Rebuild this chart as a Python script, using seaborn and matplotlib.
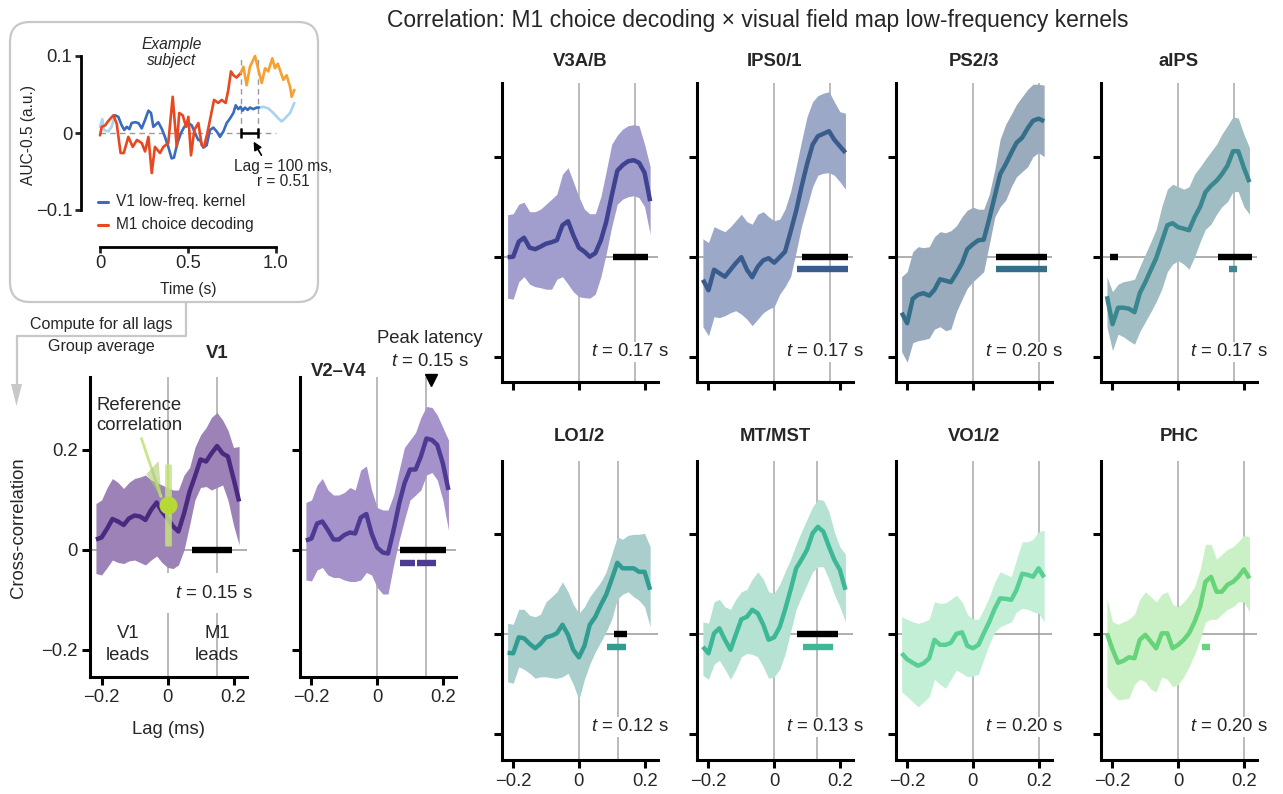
import numpy as np
import pandas as pd
import matplotlib
matplotlib.use("Agg")
import matplotlib.pyplot as plt
import seaborn as sns
from matplotlib.patches import FancyBboxPatch, Polygon, Rectangle
from matplotlib.lines import Line2D
from matplotlib.transforms import Affine2D

sns.set_style("ticks")
plt.rcParams['font.family'] = ['Liberation Sans', 'DejaVu Sans']
plt.rcParams['mathtext.fontset'] = 'custom'
plt.rcParams['mathtext.it'] = 'Liberation Sans:italic'
plt.rcParams['mathtext.rm'] = 'Liberation Sans'

# ---------------- data ----------------
lags = [-0.217, -0.2, -0.183, -0.167, -0.15, -0.133, -0.117, -0.1, -0.083, -0.067, -0.05, -0.033,
        -0.017, 0.0, 0.017, 0.033, 0.05, 0.067, 0.083, 0.1, 0.117, 0.133, 0.15, 0.167, 0.183, 0.2, 0.217]

v1_mean = [0.021, 0.025, 0.043, 0.062, 0.057, 0.05, 0.063, 0.069, 0.067, 0.06, 0.08, 0.095, 0.077, 0.063,
           0.047, 0.037, 0.073, 0.117, 0.147, 0.181, 0.177, 0.193, 0.208, 0.193, 0.187, 0.143, 0.097]
v1_hi = [0.093, 0.1, 0.125, 0.143, 0.135, 0.123, 0.135, 0.143, 0.146, 0.15, 0.14, 0.135, 0.13, 0.125,
         0.12, 0.12, 0.15, 0.165, 0.205, 0.23, 0.245, 0.265, 0.275, 0.26, 0.24, 0.205, 0.207]
v1_lo = [-0.047, -0.05, -0.035, -0.02, -0.025, -0.027, -0.022, -0.02, -0.025, -0.03, -0.02, -0.012, -0.025,
         -0.035, -0.037, -0.03, 0.0, 0.05, 0.1, 0.125, 0.127, 0.12, 0.125, 0.13, 0.1, 0.05, 0.01]

v2v4_mean = [0.019, 0.023, 0.053, 0.057, 0.04, 0.021, 0.021, 0.03, 0.035, 0.033, 0.065, 0.072, 0.033, 0.005,
             -0.005, -0.007, 0.04, 0.093, 0.133, 0.161, 0.161, 0.187, 0.223, 0.22, 0.21, 0.173, 0.12]
v2v4_hi = [0.095, 0.1, 0.13, 0.143, 0.12, 0.11, 0.11, 0.115, 0.125, 0.12, 0.16, 0.168, 0.12, 0.085,
           0.08, 0.08, 0.11, 0.16, 0.205, 0.22, 0.235, 0.265, 0.287, 0.285, 0.27, 0.245, 0.22]
v2v4_lo = [-0.06, -0.062, -0.04, -0.035, -0.05, -0.055, -0.055, -0.06, -0.063, -0.063, -0.06, -0.045, -0.05,
           -0.075, -0.088, -0.088, -0.03, 0.02, 0.06, 0.1, 0.11, 0.12, 0.15, 0.155, 0.14, 0.1, 0.04]

v3ab_mean = [-0.001, 0.0, 0.03, 0.038, 0.018, 0.015, 0.02, 0.026, 0.029, 0.033, 0.063, 0.071, 0.043, 0.018,
             0.01, 0.0, 0.007, 0.033, 0.069, 0.122, 0.172, 0.183, 0.191, 0.193, 0.188, 0.168, 0.111]
v3ab_hi = [0.084, 0.086, 0.105, 0.109, 0.09, 0.09, 0.095, 0.105, 0.115, 0.125, 0.165, 0.178, 0.15, 0.12,
           0.095, 0.086, 0.086, 0.12, 0.17, 0.225, 0.243, 0.255, 0.262, 0.264, 0.262, 0.225, 0.18]
v3ab_lo = [-0.083, -0.085, -0.05, -0.04, -0.055, -0.06, -0.062, -0.065, -0.065, -0.045, -0.04, -0.055, -0.07,
           -0.08, -0.082, -0.083, -0.075, -0.04, 0.005, 0.06, 0.105, 0.115, 0.12, 0.122, 0.118, 0.1, 0.045]

ips01_mean = [-0.046, -0.067, -0.026, -0.033, -0.04, -0.026, -0.013, -0.001, -0.026, -0.041, -0.02, -0.007,
              -0.003, -0.012, -0.001, 0.01, 0.05, 0.092, 0.139, 0.185, 0.224, 0.241, 0.246, 0.251, 0.234, 0.221, 0.208]
ips01_hi = [0.036, 0.028, 0.06, 0.055, 0.05, 0.06, 0.072, 0.085, 0.07, 0.065, 0.085, 0.09, 0.08, 0.072,
            0.075, 0.095, 0.13, 0.18, 0.23, 0.28, 0.31, 0.322, 0.327, 0.33, 0.31, 0.29, 0.287]
ips01_lo = [-0.14, -0.158, -0.12, -0.122, -0.118, -0.112, -0.108, -0.115, -0.125, -0.138, -0.125, -0.112, -0.105,
            -0.1, -0.075, -0.06, -0.04, 0.01, 0.06, 0.1, 0.14, 0.163, 0.167, 0.168, 0.163, 0.15, 0.135]

ps23_mean = [-0.112, -0.133, -0.084, -0.076, -0.073, -0.078, -0.066, -0.045, -0.048, -0.051, -0.033, -0.013,
             0.015, 0.025, 0.033, 0.034, 0.076, 0.122, 0.165, 0.185, 0.208, 0.228, 0.238, 0.257, 0.272, 0.276, 0.271]
ps23_hi = [-0.04, -0.03, 0.01, 0.02, 0.018, 0.02, 0.04, 0.05, 0.048, 0.052, 0.062, 0.08, 0.093, 0.099,
           0.095, 0.095, 0.125, 0.175, 0.235, 0.265, 0.285, 0.305, 0.32, 0.335, 0.345, 0.345, 0.343]
ps23_lo = [-0.19, -0.211, -0.172, -0.168, -0.166, -0.163, -0.145, -0.14, -0.148, -0.145, -0.11, -0.085, -0.063,
           -0.05, -0.04, -0.03, 0.025, 0.08, 0.1, 0.113, 0.14, 0.16, 0.17, 0.18, 0.2, 0.208, 0.2]

aips_mean = [-0.079, -0.135, -0.102, -0.102, -0.104, -0.111, -0.073, -0.051, -0.026, -0.003, 0.03, 0.063,
             0.067, 0.059, 0.056, 0.053, 0.079, 0.1, 0.129, 0.142, 0.152, 0.165, 0.182, 0.211, 0.211, 0.178, 0.149]
aips_hi = [-0.04, -0.07, -0.055, -0.05, -0.048, -0.045, -0.02, 0.005, 0.03, 0.055, 0.1, 0.135, 0.145, 0.14,
           0.135, 0.14, 0.165, 0.18, 0.195, 0.21, 0.225, 0.245, 0.262, 0.28, 0.277, 0.245, 0.218]
aips_lo = [-0.14, -0.188, -0.155, -0.16, -0.168, -0.175, -0.15, -0.13, -0.11, -0.09, -0.065, -0.03, -0.015,
           -0.008, -0.015, -0.025, 0.0, 0.03, 0.055, 0.065, 0.085, 0.1, 0.11, 0.13, 0.13, 0.1, 0.085]

lo12_mean = [-0.037, -0.038, -0.006, -0.008, -0.019, -0.028, -0.019, -0.006, -0.003, 0.002, 0.019, -0.001,
             -0.031, -0.046, -0.023, 0.019, 0.035, 0.059, 0.079, 0.11, 0.143, 0.132, 0.132, 0.132, 0.125, 0.125, 0.089]
lo12_hi = [0.022, 0.02, 0.05, 0.05, 0.038, 0.035, 0.04, 0.065, 0.075, 0.085, 0.105, 0.085, 0.06, 0.042,
           0.055, 0.075, 0.09, 0.105, 0.125, 0.16, 0.195, 0.19, 0.198, 0.2, 0.2, 0.202, 0.175]
lo12_lo = [-0.095, -0.098, -0.065, -0.07, -0.078, -0.088, -0.085, -0.085, -0.087, -0.088, -0.085, -0.078, -0.1,
           -0.131, -0.09, -0.06, -0.035, -0.015, 0.005, 0.03, 0.07, 0.08, 0.085, 0.075, 0.068, 0.055, 0.015]

mtmst_mean = [-0.025, -0.038, 0.002, 0.012, -0.011, -0.031, -0.001, 0.03, 0.035, 0.049, 0.042, 0.019,
              -0.011, -0.006, 0.015, 0.049, 0.089, 0.132, 0.149, 0.169, 0.202, 0.215, 0.205, 0.175, 0.149, 0.129, 0.089]
mtmst_hi = [0.025, 0.022, 0.065, 0.07, 0.055, 0.05, 0.07, 0.085, 0.09, 0.11, 0.125, 0.11, 0.085, 0.082,
            0.1, 0.125, 0.15, 0.18, 0.205, 0.23, 0.255, 0.27, 0.268, 0.245, 0.205, 0.175, 0.16]
mtmst_lo = [-0.082, -0.09, -0.06, -0.052, -0.07, -0.09, -0.07, -0.045, -0.038, -0.04, -0.045, -0.065, -0.088,
            -0.085, -0.07, -0.04, 0.005, 0.05, 0.075, 0.1, 0.125, 0.135, 0.135, 0.11, 0.08, 0.055, 0.025]

vo12_mean = [-0.038, -0.05, -0.057, -0.063, -0.058, -0.048, -0.011, -0.021, -0.021, -0.017, 0.001, 0.004,
             -0.023, -0.028, -0.021, 0.002, 0.025, 0.052, 0.072, 0.071, 0.069, 0.089, 0.121, 0.119, 0.115, 0.132, 0.114]
vo12_hi = [0.035, 0.03, 0.025, 0.022, 0.025, 0.03, 0.065, 0.062, 0.063, 0.07, 0.078, 0.065, 0.04, 0.03,
           0.03, 0.05, 0.075, 0.105, 0.125, 0.12, 0.115, 0.15, 0.185, 0.185, 0.19, 0.205, 0.208]
vo12_lo = [-0.115, -0.125, -0.135, -0.145, -0.135, -0.125, -0.09, -0.1, -0.108, -0.09, -0.072, -0.078, -0.085,
           -0.083, -0.08, -0.05, -0.02, 0.005, 0.015, 0.02, 0.025, 0.045, 0.052, 0.05, 0.045, 0.042, 0.025]

phc_mean = [0.002, -0.03, -0.057, -0.053, -0.046, -0.048, -0.011, -0.001, -0.015, -0.028, 0.002, 0.002,
            -0.028, -0.021, -0.011, 0.002, 0.025, 0.055, 0.105, 0.115, 0.085, 0.085, 0.099, 0.105, 0.115, 0.13, 0.112]
phc_hi = [0.072, 0.025, 0.02, 0.025, 0.03, 0.04, 0.07, 0.085, 0.075, 0.065, 0.08, 0.085, 0.06, 0.055,
          0.065, 0.078, 0.095, 0.13, 0.18, 0.18, 0.15, 0.16, 0.17, 0.175, 0.185, 0.198, 0.195]
phc_lo = [-0.105, -0.12, -0.131, -0.13, -0.128, -0.1, -0.09, -0.095, -0.11, -0.115, -0.085, -0.09, -0.105,
          -0.1, -0.085, -0.065, -0.04, -0.01, 0.025, 0.03, 0.03, 0.04, 0.05, 0.055, 0.065, 0.065, 0.045]

region_names = ["V1", "V2\u2013V4", "V3A/B", "IPS0/1", "PS2/3", "aIPS", "LO1/2", "MT/MST", "VO1/2", "PHC"]
peak_latency = [0.15, 0.15, 0.17, 0.17, 0.20, 0.17, 0.12, 0.13, 0.20, 0.20]
peak_labels = ["0.15", "0.15", "0.17", "0.17", "0.20", "0.17", "0.12", "0.13", "0.20", "0.20"]
fill_colors = ["#9c82b6", "#a692cb", "#a19ecd", "#9ba8c7", "#9babbe", "#9fbdc2", "#a9cecb", "#b6e2d3",
               "#c4efd7", "#caf1c6"]
line_colors = ["#4a2a80", "#4d3a93", "#3e4290", "#3a5c8d", "#356e88", "#3a8790", "#319c91", "#3db896",
               "#58d094", "#68d47a"]
black_bars = [[(0.073, 0.194)], [(0.071, 0.211)], [(0.105, 0.209)], [(0.086, 0.225)], [(0.071, 0.225)],
              [(-0.208, -0.184), (0.121, 0.225)], [(0.106, 0.146)], [(0.071, 0.194)], [], []]
color_bars = [[], [(0.071, 0.114), (0.12, 0.178)], [], [(0.071, 0.225)], [(0.071, 0.225)],
              [(0.154, 0.178)], [(0.087, 0.143)], [(0.087, 0.179)], [], [(0.073, 0.097)]]

# example subject time courses
m1_t = [0.0, 0.01, 0.03, 0.045, 0.076, 0.095, 0.117, 0.135, 0.161, 0.186, 0.21, 0.237, 0.256, 0.275, 0.294,
        0.312, 0.341, 0.36, 0.388, 0.413, 0.436, 0.45, 0.47, 0.489, 0.502, 0.517, 0.536, 0.559, 0.578, 0.591,
        0.61, 0.625, 0.648, 0.672, 0.691, 0.714, 0.729, 0.744, 0.758, 0.776, 0.8,
        0.815, 0.833, 0.852, 0.881, 0.9, 0.919, 0.938, 0.956, 0.979, 0.994, 1.01, 1.028, 1.042, 1.06,
        1.08, 1.089, 1.104]
m1_y = [-0.003, 0.008, 0.01, 0.015, 0.023, 0.012, -0.026, -0.026, -0.005, -0.018, -0.009, -0.013, -0.024,
        -0.005, -0.052, -0.018, -0.026, -0.018, -0.013, 0.047, -0.018, 0.026, 0.023, 0.008, 0.021, -0.029,
        0.004, 0.013, -0.016, -0.018, 0.0, 0.017, 0.043, 0.039, 0.043, 0.039, 0.056, 0.08, 0.075, 0.072, 0.078,
        0.086, 0.062, 0.086, 0.1, 0.082, 0.065, 0.084, 0.08, 0.097, 0.084, 0.09, 0.078, 0.069, 0.075,
        0.06, 0.047, 0.056]
v1k_t = [0.0, 0.013, 0.023, 0.047, 0.066, 0.085, 0.104, 0.123, 0.138, 0.152, 0.167, 0.18, 0.199, 0.218,
         0.237, 0.256, 0.275, 0.29, 0.303, 0.331, 0.35, 0.369, 0.388, 0.407, 0.42, 0.44, 0.46, 0.479, 0.502,
         0.521, 0.54, 0.558, 0.568, 0.587, 0.606, 0.625, 0.644, 0.663, 0.682, 0.701, 0.72, 0.739, 0.758,
         0.771, 0.786, 0.799, 0.81, 0.824, 0.839, 0.852, 0.871, 0.89, 0.903,
         0.928, 0.956, 0.985, 1.013, 1.032, 1.051, 1.08, 1.104]
v1k_y = [0.008, 0.018, 0.004, 0.002, 0.008, 0.023, 0.021, 0.01, 0.004, 0.008, 0.005, 0.013, 0.014, 0.013,
         0.006, 0.017, 0.029, 0.026, 0.008, 0.014, 0.006, -0.005, -0.018, -0.033, -0.032, -0.013, 0.0, 0.008,
         0.013, 0.01, 0.0, -0.009, -0.009, -0.019, -0.016, 0.004, 0.007, 0.002, -0.005, 0.002, 0.013, 0.019,
         0.026, 0.036, 0.031, 0.034, 0.029, 0.033, 0.03, 0.033, 0.031, 0.033, 0.033,
         0.034, 0.032, 0.026, 0.019, 0.015, 0.019, 0.026, 0.039]

# ---------------- figure ----------------
W, H = 1283, 794
fig = plt.figure(figsize=(W / 100, H / 100), dpi=100)
PX = Affine2D().scale(1 / 100, -1 / 100).translate(0, H / 100) + fig.dpi_scale_trans


def px_axes(left, top, right, bottom):
    return fig.add_axes([left / W, 1 - bottom / H, (right - left) / W, (bottom - top) / H])


FS = 13.3
SPINE_W = 2.2
GRID_C = "#a8a8a8"
XLIM = (-0.235, 0.24)


def style_axes(ax, xlabels, ylabels):
    sns.despine(ax=ax)
    for s in ("left", "bottom"):
        ax.spines[s].set_linewidth(SPINE_W)
        ax.spines[s].set_color("black")
    ax.tick_params(axis="both", length=6, width=SPINE_W, color="black", labelsize=FS, pad=3)
    ax.set_xticks([-0.2, 0, 0.2])
    ax.set_yticks([-0.2, 0, 0.2])
    if xlabels:
        ax.set_xticklabels(["\u22120.2", "0", "0.2"])
    else:
        ax.set_xticklabels([])
    if ylabels:
        ax.set_yticklabels(["\u22120.2", "0", "0.2"])
    else:
        ax.set_yticklabels([])
    ax.set_xlabel("")
    ax.set_ylabel("")


def draw_panel(ax, i, mean, lo, hi, ylim, xlabels, ylabels):
    ax.set_xlim(*XLIM)
    ax.set_ylim(*ylim)
    ax.axvline(0, color=GRID_C, lw=1.1, zorder=1)
    ax.axvline(peak_latency[i], color=GRID_C, lw=1.1, zorder=1)
    ax.axhline(0, color="#9a9a9a", lw=1.1, zorder=1)
    ax.fill_between(lags, lo, hi, color=fill_colors[i], lw=0, zorder=2)
    df = pd.DataFrame({"lag": lags, "r": mean})
    sns.lineplot(data=df, x="lag", y="r", ax=ax, color=line_colors[i], lw=3.2, zorder=3,
                 solid_joinstyle="round", solid_capstyle="butt")
    for a, b in black_bars[i]:
        ax.hlines(0, a, b, color="black", lw=4.6, zorder=4)
    for a, b in color_bars[i]:
        ax.hlines(-0.025, a, b, color=line_colors[i], lw=4.6, zorder=4)
    style_axes(ax, xlabels, ylabels)


series = [(v1_mean, v1_lo, v1_hi), (v2v4_mean, v2v4_lo, v2v4_hi), (v3ab_mean, v3ab_lo, v3ab_hi),
          (ips01_mean, ips01_lo, ips01_hi), (ps23_mean, ps23_lo, ps23_hi), (aips_mean, aips_lo, aips_hi),
          (lo12_mean, lo12_lo, lo12_hi), (mtmst_mean, mtmst_lo, mtmst_hi), (vo12_mean, vo12_lo, vo12_hi),
          (phc_mean, phc_lo, phc_hi)]

# left panels
ax_v1 = px_axes(90, 376.7, 246.7, 676.7)
draw_panel(ax_v1, 0, *series[0], ylim=(-0.2534, 0.3466), xlabels=True, ylabels=True)
ax_v2 = px_axes(300, 376.7, 456, 676.7)
draw_panel(ax_v2, 1, *series[1], ylim=(-0.2534, 0.3466), xlabels=True, ylabels=False)

# grid panels
col_lefts = [501.7, 697.0, 895.7, 1101.0]
for j in range(4):
    ax = px_axes(col_lefts[j], 82.7, col_lefts[j] + 156, 381.7)
    i = 2 + j
    draw_panel(ax, i, *series[i], ylim=(-0.25, 0.348), xlabels=False, ylabels=False)
    ax.set_title(region_names[i], fontsize=FS, fontweight="bold", pad=12)
    ax.text(0.2735, -0.19, r"$t$ = " + peak_labels[i] + " s", ha="right", va="center", fontsize=FS,
            bbox=dict(facecolor="white", edgecolor="none", pad=1.0), zorder=5)
for j in range(4):
    ax = px_axes(col_lefts[j], 460.7, col_lefts[j] + 156, 760)
    i = 6 + j
    draw_panel(ax, i, *series[i], ylim=(-0.2514, 0.3472), xlabels=True, ylabels=False)
    ax.set_title(region_names[i], fontsize=FS, fontweight="bold", pad=14)
    ax.text(0.2735, -0.185, r"$t$ = " + peak_labels[i] + " s", ha="right", va="center", fontsize=FS,
            bbox=dict(facecolor="white", edgecolor="none", pad=1.0), zorder=5)

# V1 panel annotations
ax_v1.add_patch(Rectangle((-0.03, -0.126), 0.3, 0.08, facecolor="white", edgecolor="none", zorder=4,
                          clip_on=False))
ax_v1.text(0.2585, -0.086, r"$t$ = 0.15 s", ha="right", va="center", fontsize=FS, zorder=5)
ax_v1.text(-0.119, -0.168, "V1", ha="center", va="center", fontsize=FS)
ax_v1.text(-0.119, -0.21, "leads", ha="center", va="center", fontsize=FS)
ax_v1.text(0.15, -0.168, "M1", ha="center", va="center", fontsize=FS)
ax_v1.text(0.15, -0.21, "leads", ha="center", va="center", fontsize=FS)
ax_v1.text(-0.216, 0.29, "Reference", ha="left", va="center", fontsize=FS, zorder=6)
ax_v1.text(-0.216, 0.25, "correlation", ha="left", va="center", fontsize=FS, zorder=6)
ax_v1.plot([-0.079, -0.02], [0.223, 0.107], color="#c8e68a", lw=2, zorder=6)
ax_v1.add_patch(Polygon([(-0.064, 0.152), (-0.027, 0.178), (-0.018, 0.102)], closed=True,
                        facecolor="#a9c86a", edgecolor="none", alpha=0.55, zorder=6))
ax_v1.vlines(0, 0.008, 0.172, color="#c6e27e", lw=4.8, alpha=0.85, zorder=6)
ax_v1.plot([0], [0.09], "o", ms=13, color="#b6d935", mec="none", zorder=7)

# V2-V4 peak marker
ax_v2.plot([0.165], [0.34], marker="v", ms=8, color="black", clip_on=False, zorder=7)

# figure texts
fig.text(758 / W, 1 - 20 / H, "Correlation: M1 choice decoding \u00d7 visual field map low-frequency kernels",
         ha="center", va="center", fontsize=16.5)
fig.text(216.7 / W, 1 - 353 / H, "V1", ha="center", va="center", fontsize=FS, fontweight="bold")
fig.text(339 / W, 1 - 371 / H, "V2\u2013V4", ha="center", va="center", fontsize=FS, fontweight="bold")
fig.text(430 / W, 1 - 339 / H, "Peak latency", ha="center", va="center", fontsize=FS)
fig.text(430 / W, 1 - 361 / H, r"$t$ = 0.15 s", ha="center", va="center", fontsize=FS)
fig.text(18.5 / W, 1 - 528 / H, "Cross-correlation", ha="center", va="center", fontsize=FS, rotation=90)
fig.text(168 / W, 1 - 730 / H, "Lag (ms)", ha="center", va="center", fontsize=FS)
fig.text(101 / W, 1 - 324 / H, "Compute for all lags", ha="center", va="center", fontsize=11.5)
fig.text(101 / W, 1 - 347 / H, "Group average", ha="center", va="center", fontsize=11.5)

# rounded inset box and connector
BOX_C = "#c8c8c8"
box = FancyBboxPatch((10, 22), 308, 280, boxstyle="round,pad=0,rounding_size=20", transform=PX,
                     facecolor="none", edgecolor=BOX_C, lw=1.6)
fig.add_artist(box)
fig.add_artist(Line2D([185.5, 185.5, 16.5, 16.5], [302, 336, 336, 388], transform=PX, color=BOX_C, lw=1.6))
fig.add_artist(Polygon([(11, 384), (22, 384), (16.5, 406)], closed=True, transform=PX, facecolor=BOX_C,
                       edgecolor="none"))

# ---------------- inset ----------------
axi = px_axes(80.7, 40, 300, 247)
axi.set_xlim((80.7 - 100) / 176, (300 - 100) / 176)
axi.set_ylim((133 - 247) / 770, (133 - 40) / 770)
IFS = 11.2
axi.hlines(0, 0, 1.0, color="#9a9a9a", lw=1, linestyles=(0, (4, 3)), zorder=1)
axi.vlines([0.8, 0.9], 0, 0.1, color="#9a9a9a", lw=1, linestyles=(0, (4, 3)), zorder=1)

m1_df = pd.DataFrame({"t": m1_t, "y": m1_y})
v1k_df = pd.DataFrame({"t": v1k_t, "y": v1k_y})
sns.lineplot(data=v1k_df[v1k_df.t <= 0.086], x="t", y="y", ax=axi, color="#a9d4ef", lw=1.9, zorder=2)
sns.lineplot(data=v1k_df[v1k_df.t >= 0.902], x="t", y="y", ax=axi, color="#a9d4ef", lw=1.9, zorder=2)
sns.lineplot(data=v1k_df[(v1k_df.t >= 0.084) & (v1k_df.t <= 0.904)], x="t", y="y", ax=axi,
             color="#3b6bbf", lw=1.9, zorder=3)
sns.lineplot(data=m1_df[m1_df.t <= 0.801], x="t", y="y", ax=axi, color="#e8471f", lw=1.9, zorder=4)
sns.lineplot(data=m1_df[m1_df.t >= 0.799], x="t", y="y", ax=axi, color="#f5a030", lw=1.9, zorder=4)

axi.hlines(0, 0.8, 0.9, color="black", lw=1.8, zorder=5)
axi.vlines([0.8, 0.9], -0.007, 0.007, color="black", lw=1.8, zorder=5)
axi.annotate("", xy=(0.865, -0.008), xytext=(0.925, -0.032),
             arrowprops=dict(arrowstyle="-|>", color="black", lw=1.2, mutation_scale=12), zorder=6)
fig.text(283 / W, 1 - 166 / H, "Lag = 100 ms,", ha="center", va="center", fontsize=IFS)
fig.text(283 / W, 1 - 182 / H, "r = 0.51", ha="center", va="center", fontsize=IFS)
fig.text(172 / W, 1 - 44 / H, "Example", ha="center", va="center", fontsize=IFS, style="italic")
fig.text(172 / W, 1 - 61 / H, "subject", ha="center", va="center", fontsize=IFS, style="italic")

# legend
for yy, cc, lab in [(-0.0896, "#3b6bbf", "V1 low-freq. kernel"), (-0.119, "#e8471f", "M1 choice decoding")]:
    axi.plot([-0.011, 0.045], [yy, yy], color=cc, lw=2.2, clip_on=False)
    axi.text(0.091, yy, lab, ha="left", va="center", fontsize=IFS)

sns.despine(ax=axi)
axi.spines["left"].set_bounds(-0.1, 0.1)
axi.spines["bottom"].set_bounds(0, 1.0)
for s in ("left", "bottom"):
    axi.spines[s].set_linewidth(2.0)
    axi.spines[s].set_color("black")
axi.set_xticks([0, 0.5, 1.0])
axi.set_xticklabels(["0", "0.5", "1.0"])
axi.set_yticks([-0.1, 0, 0.1])
axi.set_yticklabels(["\u22120.1", "0", "0.1"])
axi.tick_params(axis="both", length=4.5, width=2.0, labelsize=13.3, pad=1.5)
axi.set_xlabel("Time (s)", fontsize=IFS)
axi.set_ylabel("AUC-0.5 (a.u.)", fontsize=IFS)
axi.xaxis.set_label_coords((188 - 80.7) / 219.3, (247 - 289) / 207)
axi.yaxis.set_label_coords((28 - 80.7) / 219.3, (247 - 135) / 207)
axi.xaxis.label.set_va("center")
axi.yaxis.label.set_va("center")

fig.savefig("out.png", dpi=100)
